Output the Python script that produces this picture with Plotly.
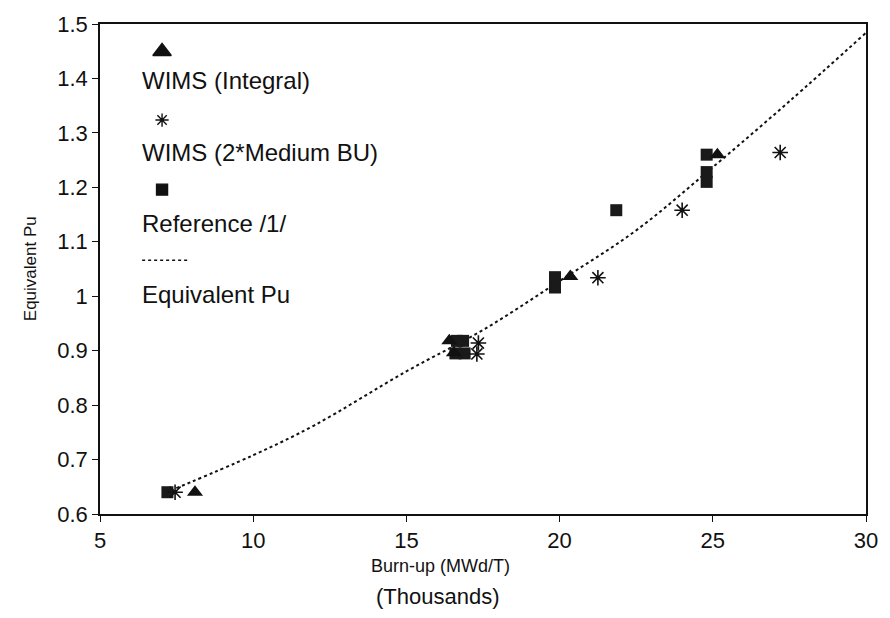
import plotly.graph_objects as go

# ---- data ----
wims_integral_x = [8.1, 16.4, 16.55, 20.35, 25.15]
wims_integral_y = [0.640, 0.918, 0.896, 1.036, 1.260]

wims_medium_x = [7.45, 17.35, 17.3, 21.25, 24.0, 27.2]
wims_medium_y = [0.640, 0.914, 0.894, 1.034, 1.158, 1.264]

reference_x = [7.2, 16.65, 16.85, 16.6, 16.9, 19.85, 19.85, 21.85, 24.8, 24.8, 24.8]
reference_y = [0.640, 0.918, 0.918, 0.895, 0.895, 1.035, 1.016, 1.158, 1.260, 1.228, 1.210]

eqpu_x = [7.3, 10, 12, 15, 17.5, 20, 22.5, 25, 27.5, 30]
eqpu_y = [0.643, 0.708, 0.763, 0.862, 0.938, 1.028, 1.121, 1.237, 1.358, 1.484]

x_ticks = [5, 10, 15, 20, 25, 30]
y_ticks = [0.6, 0.7, 0.8, 0.9, 1.0, 1.1, 1.2, 1.3, 1.4, 1.5]
y_ticktext = ["0.6", "0.7", "0.8", "0.9", "1", "1.1", "1.2", "1.3", "1.4", "1.5"]

legend_names = ["WIMS (Integral)", "WIMS (2*Medium BU)", "Reference /1/", "Equivalent Pu"]

FONT = "Liberation Sans, Arial, Helvetica, sans-serif"
INK = "#111111"

fig = go.Figure()

fig.add_trace(go.Scatter(
    x=eqpu_x, y=eqpu_y, mode="lines", line=dict(color=INK, width=2, dash="dot", shape="spline"),
    name=legend_names[3], showlegend=False))
fig.add_trace(go.Scatter(
    x=reference_x, y=reference_y, mode="markers",
    marker=dict(symbol="square", size=12, color="#1a1a1a", line=dict(width=0)),
    name=legend_names[2], showlegend=False))
fig.add_trace(go.Scatter(
    x=wims_integral_x, y=wims_integral_y, mode="markers",
    marker=dict(symbol="triangle-up", size=14, color=INK, line=dict(width=0)),
    name=legend_names[0], showlegend=False))
fig.add_trace(go.Scatter(
    x=wims_medium_x, y=wims_medium_y, mode="markers",
    marker=dict(symbol="asterisk-open", size=13, color=INK, line=dict(width=1.6, color=INK)),
    name=legend_names[1], showlegend=False))

# ---- in-plot legend (symbol above its label), drawn on a hidden overlay axis ----
leg_x = [0.081, 0.081, 0.081]
leg_y = [0.944, 0.804, 0.662]
leg_symbols = ["triangle-up", "asterisk-open", "square"]
leg_sizes = [16, 11, 11]
for xx, yy, sym, sz in zip(leg_x, leg_y, leg_symbols, leg_sizes):
    fig.add_trace(go.Scatter(
        x=[xx], y=[yy], xaxis="x2", yaxis="y2", mode="markers", showlegend=False,
        marker=dict(symbol=sym, size=sz, color=INK, line=dict(width=1.4, color=INK)),
        hoverinfo="skip"))
fig.add_trace(go.Scatter(
    x=[0.055, 0.115], y=[0.518, 0.518], xaxis="x2", yaxis="y2", mode="lines", showlegend=False,
    line=dict(color=INK, width=1.5, dash="dot"), hoverinfo="skip"))

label_y = [0.884, 0.738, 0.592, 0.448]
for txt, yy in zip(legend_names, label_y):
    fig.add_annotation(x=0.052, y=yy, xref="x2", yref="y2", text=txt, showarrow=False,
                       xanchor="left", yanchor="middle",
                       font=dict(family=FONT, size=24, color=INK))

# axis titles
fig.add_annotation(x=(441 - 100) / 768, y=-(567 - 514) / 500, xref="x domain", yref="y domain",
                   text="Burn-up (MWd/T)", showarrow=False, xanchor="center", yanchor="middle",
                   font=dict(family=FONT, size=18, color=INK))
fig.add_annotation(x=(439 - 100) / 768, y=-(598 - 514) / 500, xref="x domain", yref="y domain",
                   text="(Thousands)", showarrow=False, xanchor="center", yanchor="middle",
                   font=dict(family=FONT, size=22, color=INK))
fig.add_annotation(x=-(100 - 30) / 768, y=0.5, xref="x domain", yref="y domain",
                   text="Equivalent Pu", showarrow=False, textangle=-90,
                   xanchor="center", yanchor="middle",
                   font=dict(family=FONT, size=17, color=INK))

fig.update_layout(
    width=890, height=618,
    margin=dict(l=100, r=22, t=14, b=104),
    paper_bgcolor="white", plot_bgcolor="white",
    font=dict(family=FONT, color=INK),
    xaxis=dict(range=[5, 30], tickvals=x_ticks, ticks="outside", ticklen=6, tickwidth=1.2,
               tickcolor=INK, showgrid=False, zeroline=False, showline=True, linecolor=INK,
               linewidth=1.5, mirror=True, tickfont=dict(size=22, family=FONT, color=INK)),
    yaxis=dict(range=[0.6, 1.5], tickvals=y_ticks, ticktext=y_ticktext, ticks="outside",
               ticklen=6, tickwidth=1.2, tickcolor=INK, showgrid=False, zeroline=False,
               showline=True, linecolor=INK, linewidth=1.5, mirror=True,
               tickfont=dict(size=22, family=FONT, color=INK)),
    xaxis2=dict(range=[0, 1], overlaying="x", visible=False, fixedrange=True),
    yaxis2=dict(range=[0, 1], overlaying="y", visible=False, fixedrange=True),
    showlegend=False,
)

fig.write_html("out.html")
